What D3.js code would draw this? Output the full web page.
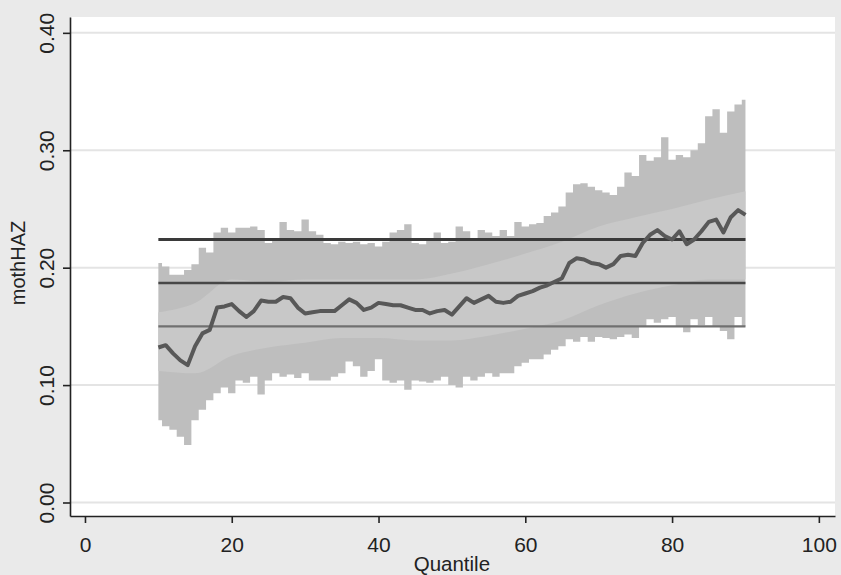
<!DOCTYPE html>
<html>
<head>
<meta charset="utf-8">
<script src="https://cdn.jsdelivr.net/npm/d3@7"></script>
<style>
  body { margin: 0; background: #eaeaea; }
  svg { display: block; font-family: "Liberation Sans", Arial, sans-serif; }
</style>
</head>
<body>
<div id="chart"></div>
<script>
// quantile regression estimates of mothHAZ by quantile
var quantile = [10,11,12,13,14,15,16,17,18,19,20,21,22,23,24,25,26,27,28,29,30,
  31,32,33,34,35,36,37,38,39,40,41,42,43,44,45,46,47,48,49,50,
  51,52,53,54,55,56,57,58,59,60,61,62,63,64,65,66,67,68,69,70,
  71,72,73,74,75,76,77,78,79,80,81,82,83,84,85,86,87,88,89,90];

var coef = [0.132,0.134,0.127,0.121,0.117,0.133,0.144,0.147,0.166,0.167,0.169,
  0.163,0.158,0.163,0.172,0.171,0.171,0.175,0.174,0.166,0.161,
  0.162,0.163,0.163,0.163,0.168,0.173,0.170,0.164,0.166,0.170,
  0.169,0.168,0.168,0.166,0.164,0.164,0.161,0.163,0.164,0.160,
  0.167,0.174,0.170,0.173,0.176,0.171,0.170,0.171,0.176,0.178,
  0.180,0.183,0.185,0.188,0.191,0.204,0.208,0.207,0.204,0.203,
  0.200,0.203,0.210,0.211,0.210,0.221,0.228,0.232,0.227,0.224,
  0.231,0.220,0.224,0.231,0.239,0.241,0.230,0.243,0.249,0.245];

// outer edges of the confidence band (noisy part)
var upperOuter = [0.204,0.201,0.194,0.194,0.198,0.203,0.217,0.213,0.230,0.234,0.230,
  0.234,0.234,0.235,0.232,0.221,0.224,0.239,0.232,0.231,0.241,
  0.231,0.228,0.221,0.220,0.222,0.221,0.222,0.220,0.221,0.218,
  0.222,0.230,0.232,0.237,0.221,0.220,0.224,0.230,0.221,0.222,
  0.235,0.231,0.225,0.232,0.230,0.227,0.232,0.227,0.239,0.235,
  0.237,0.238,0.244,0.247,0.252,0.264,0.271,0.272,0.269,0.266,
  0.264,0.262,0.269,0.281,0.278,0.296,0.291,0.294,0.311,0.292,
  0.296,0.294,0.300,0.306,0.329,0.335,0.315,0.333,0.339,0.343];

var lowerOuter = [0.070,0.065,0.062,0.056,0.049,0.070,0.079,0.087,0.093,0.098,0.093,
  0.104,0.102,0.107,0.092,0.104,0.110,0.107,0.109,0.106,0.110,
  0.104,0.104,0.104,0.107,0.110,0.120,0.116,0.107,0.112,0.122,
  0.104,0.102,0.104,0.096,0.104,0.103,0.102,0.104,0.107,0.100,
  0.098,0.107,0.104,0.107,0.110,0.107,0.110,0.110,0.116,0.119,
  0.122,0.122,0.126,0.130,0.133,0.139,0.137,0.141,0.137,0.141,
  0.140,0.139,0.141,0.143,0.140,0.150,0.156,0.153,0.156,0.158,
  0.150,0.145,0.156,0.151,0.158,0.150,0.146,0.139,0.158,0.150];

// inner (solid) part of the band
var quantileInner = [10,15,20,25,30,35,40,45,50,55,60,65,70,75,80,85,90];
var upperInner = [0.162,0.170,0.190,0.188,0.190,0.190,0.190,0.190,0.195,0.203,0.212,0.222,0.235,0.243,0.250,0.258,0.265];
var lowerInner = [0.112,0.110,0.125,0.132,0.136,0.140,0.140,0.138,0.138,0.142,0.148,0.155,0.168,0.178,0.185,0.190,0.190];

// OLS estimate and its CI
var olsRange = [10, 90];
var olsValues = [0.224, 0.187, 0.150];
var olsColors = ["#3a3a3a", "#474747", "#707070"];
var olsWidths = [3, 2.6, 2.2];

var xTicks = [0, 20, 40, 60, 80, 100];
var yTicks = [0, 0.1, 0.2, 0.3, 0.4];

var W = 841, H = 575;
var svg = d3.select("#chart").append("svg")
  .attr("width", W)
  .attr("height", H);

svg.append("rect")
  .attr("width", W).attr("height", H)
  .attr("fill", "#eaeaea");

var x = d3.scaleLinear().domain([-2.04, 102.2]).range([70, 835]);
var y = d3.scaleLinear().domain([-0.0115, 0.4135]).range([516, 17]);

// plot region
svg.append("rect")
  .attr("x", 71).attr("y", 17)
  .attr("width", 835 - 71).attr("height", 516 - 17)
  .attr("fill", "#ffffff");

// gridlines
svg.append("g")
  .selectAll("line")
  .data(yTicks)
  .enter()
  .append("line")
  .attr("x1", 71)
  .attr("x2", 835)
  .attr("y1", (d) => y(d))
  .attr("y2", (d) => y(d))
  .style("stroke", "#e4e4e4")
  .style("stroke-width", 2);

var rows = quantile.map((q, i) => ({ q: q, lo: lowerOuter[i], hi: upperOuter[i], b: coef[i] }));
var innerRows = quantileInner.map((q, i) => ({ q: q, lo: lowerInner[i], hi: upperInner[i] }));

// noisy outer band
svg.append("path")
  .datum(rows)
  .attr("fill", "#bebebe")
  .attr("d", d3.area()
    .curve(d3.curveStep)
    .x((d) => x(d.q))
    .y0((d) => y(d.lo))
    .y1((d) => y(d.hi)));

// solid inner band
svg.append("path")
  .datum(innerRows)
  .attr("fill", "#c8c8c8")
  .attr("d", d3.area()
    .curve(d3.curveMonotoneX)
    .x((d) => x(d.q))
    .y0((d) => y(d.lo))
    .y1((d) => y(d.hi)));

// OLS lines
svg.append("g")
  .selectAll("line")
  .data(olsValues)
  .enter()
  .append("line")
  .attr("x1", x(olsRange[0]))
  .attr("x2", x(olsRange[1]))
  .attr("y1", (d) => y(d))
  .attr("y2", (d) => y(d))
  .style("stroke", (d, i) => olsColors[i])
  .style("stroke-width", (d, i) => olsWidths[i]);

// quantile coefficient
svg.append("path")
  .datum(rows)
  .attr("fill", "none")
  .style("stroke", "#585858")
  .style("stroke-width", 4)
  .style("stroke-linejoin", "round")
  .attr("d", d3.line()
    .x((d) => x(d.q))
    .y((d) => y(d.b)));

// axes
var xAxis = svg.append("g")
  .attr("transform", "translate(0,516)")
  .call(d3.axisBottom(x).tickValues(xTicks).tickSize(7).tickSizeOuter(0));
xAxis.selectAll("text")
  .attr("y", 0)
  .attr("dy", null)
  .attr("transform", "translate(0,35.5)")
  .style("font-size", "21px")
  .style("fill", "#222");

var yAxis = svg.append("g")
  .attr("transform", "translate(70,0)")
  .call(d3.axisLeft(y).tickValues(yTicks).tickSize(7).tickSizeOuter(0).tickFormat(d3.format(".2f")));
yAxis.selectAll(".tick text")
  .attr("x", null)
  .attr("dy", null)
  .attr("text-anchor", "middle")
  .attr("transform", "translate(-16.5,0) rotate(-90)")
  .style("font-size", "21px")
  .style("fill", "#222");

svg.selectAll(".domain, .tick line")
  .style("stroke", "#222")
  .style("stroke-width", 1.6);

// axis titles
svg.append("text")
  .attr("x", x(50))
  .attr("y", 571)
  .attr("text-anchor", "middle")
  .style("font-size", "20.5px")
  .style("fill", "#222")
  .text("Quantile");

svg.append("text")
  .attr("transform", "translate(25,263) rotate(-90)")
  .attr("text-anchor", "middle")
  .style("font-size", "20px")
  .style("fill", "#222")
  .text("mothHAZ");
</script>
</body>
</html>
